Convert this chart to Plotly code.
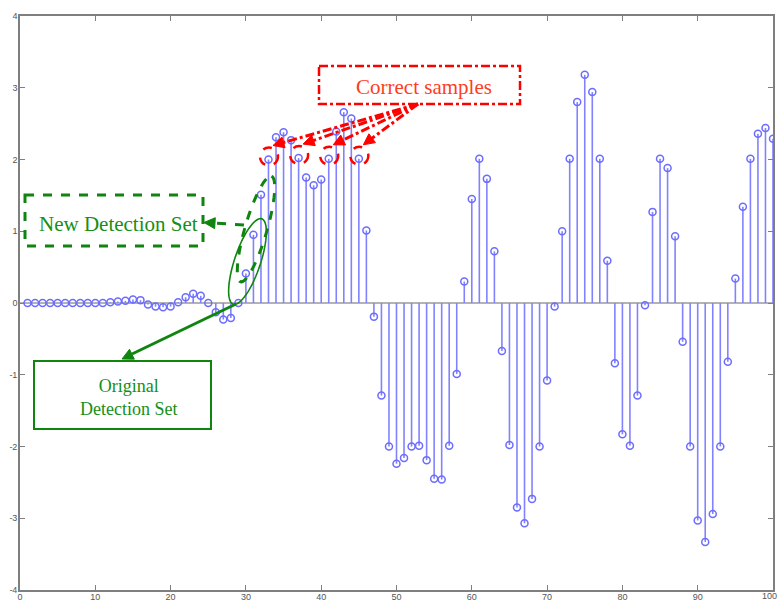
import math
import plotly.graph_objects as go

# ---------------- data ----------------
n_idx = list(range(1, 101))
values = [0.0, 0.0, 0.0, 0.0, 0.0, 0.0, 0.0, 0.0, 0.0, 0.0,
          0.0, 0.01, 0.02, 0.03, 0.05, 0.04, -0.02, -0.05, -0.06, -0.05,
          0.01, 0.08, 0.13, 0.10, 0.0, -0.13, -0.23, -0.21, 0.0, 0.41,
          0.95, 1.51, 2.0, 2.31, 2.38, 2.27, 2.02, 1.75, 1.64, 1.72,
          2.01, 2.39, 2.66, 2.57, 2.01, 1.01, -0.19, -1.29, -2.0, -2.24,
          -2.16, -2.0, -1.99, -2.19, -2.45, -2.46, -1.99, -0.99, 0.30, 1.45,
          2.01, 1.73, 0.72, -0.67, -1.98, -2.85, -3.07, -2.73, -2.0, -1.08,
          -0.05, 1.0, 2.01, 2.80, 3.18, 2.94, 2.01, 0.59, -0.84, -1.83,
          -1.99, -1.29, -0.03, 1.27, 2.01, 1.88, 0.93, -0.54, -2.0, -3.03,
          -3.33, -2.94, -2.0, -0.82, 0.34, 1.34, 2.01, 2.36, 2.44, 2.29]
x_ticks = [0, 10, 20, 30, 40, 50, 60, 70, 80, 90, 100]
y_ticks = [-4, -3, -2, -1, 0, 1, 2, 3, 4]
correct_idx = [33, 37, 41, 45]

# ---------------- layout geometry ----------------
W, H = 779, 604
ML, MR, MT, MB = 20, 6, 16, 14
X0, X1, Y0, Y1 = 0, 100, -4, 4
PW, PH = W - ML - MR, H - MT - MB


def d(px, py):
    return (X0 + (px - ML) / PW * (X1 - X0), Y1 - (py - MT) / PH * (Y1 - Y0))


def p(x, y):
    return (ML + (x - X0) / (X1 - X0) * PW, MT + (Y1 - y) / (Y1 - Y0) * PH)


def path_from_px(pts, close=True):
    s = ""
    for i, (px, py) in enumerate(pts):
        x, y = d(px, py)
        s += ("M" if i == 0 else "L") + f"{x:.4f},{y:.4f} "
    if close:
        s += "Z"
    return s


def ellipse_px(cx, cy, a, b, ang, n=72):
    r = math.radians(ang)
    ux, uy = math.cos(r), -math.sin(r)
    vx, vy = math.sin(r), math.cos(r)
    pts = []
    for k in range(n):
        t = 2 * math.pi * k / n
        pts.append((cx + a * math.cos(t) * ux + b * math.sin(t) * vx,
                    cy + a * math.cos(t) * uy + b * math.sin(t) * vy))
    return path_from_px(pts)


def arrowhead(sx, sy, tx, ty, L=11, w=5.5):
    dx, dy = tx - sx, ty - sy
    m = math.hypot(dx, dy)
    dx, dy = dx / m, dy / m
    nx, ny = -dy, dx
    bx, by = tx - L * dx, ty - L * dy
    return path_from_px([(tx, ty), (bx + w * nx, by + w * ny), (bx - w * nx, by - w * ny)])


RED = "#ff0000"
RED_TXT = "#ff3c1e"
GREEN = "#0f850f"
GREEN_TXT = "#168f16"
STEM = "#8282ff"
MARK = "#6c6cff"
TICK_FONT = dict(family="Liberation Sans Narrow, Liberation Sans", size=9, color="#555555")

fig = go.Figure()

# stems
sx, sy = [], []
for xi, v in zip(n_idx, values):
    sx += [xi, xi, None]
    sy += [0, v, None]
fig.add_trace(go.Scatter(x=sx, y=sy, mode="lines",
                         line=dict(color=STEM, width=1.6), hoverinfo="skip",
                         showlegend=False))
fig.add_trace(go.Scatter(x=n_idx, y=values, mode="markers",
                         marker=dict(symbol="circle-open", size=7,
                                     color=MARK, line=dict(width=1.5, color=MARK)),
                         showlegend=False))

shapes = []
annos = []

# baseline
shapes.append(dict(type="line", xref="x", yref="y", x0=X0, x1=X1, y0=0, y1=0,
                   line=dict(color="#9a9a9a", width=1.6), layer="below"))

# ---- red "Correct samples" box and arrows ----
bx0, by0 = d(319, 66)
bx1, by1 = d(520, 104)
shapes.append(dict(type="rect", xref="x", yref="y", x0=bx0, x1=bx1, y0=by0, y1=by1,
                   line=dict(color=RED, width=2.5, dash="dashdot")))
cx_t, cy_t = d(424, 87)
annos.append(dict(x=cx_t, y=cy_t, xref="x", yref="y", text="Correct samples",
                  showarrow=False, font=dict(family="Liberation Serif", size=21,
                                             color=RED_TXT)))
start = (418, 104)
for k in correct_idx:
    px, py = p(k, values[k - 1])
    ccx, ccy = px + 0.5, py - 3
    rr = 9
    ax0, ay0 = d(ccx - rr, ccy + rr)
    ax1, ay1 = d(ccx + rr, ccy - rr)
    shapes.append(dict(type="circle", xref="x", yref="y", x0=ax0, x1=ax1, y0=ay0, y1=ay1,
                       line=dict(color=RED, width=2.5, dash="dash")))
    tx, ty = ccx + 4, ccy - 11
    ddx, ddy = tx - start[0], ty - start[1]
    m = math.hypot(ddx, ddy)
    ex, ey = tx - 9 * ddx / m, ty - 9 * ddy / m
    l0 = d(*start)
    l1 = d(ex, ey)
    shapes.append(dict(type="line", xref="x", yref="y", x0=l0[0], y0=l0[1], x1=l1[0], y1=l1[1],
                       line=dict(color=RED, width=3, dash="dashdot")))
    shapes.append(dict(type="path", xref="x", yref="y", path=arrowhead(start[0], start[1], tx, ty),
                       fillcolor=RED, line=dict(color=RED, width=1)))

# ---- green "New Detection Set" dashed box ----
g0 = d(25, 195)
g1 = d(203, 246)
shapes.append(dict(type="rect", xref="x", yref="y", x0=g0[0], x1=g1[0], y0=g0[1], y1=g1[1],
                   line=dict(color=GREEN, width=3, dash="dash")))
t = d(118, 224)
annos.append(dict(x=t[0], y=t[1], xref="x", yref="y", text="New Detection Set",
                  showarrow=False, font=dict(family="Liberation Serif", size=21,
                                             color=GREEN_TXT)))
shapes.append(dict(type="path", xref="x", yref="y",
                   path=ellipse_px(256, 229, 55, 11, 73.7),
                   line=dict(color=GREEN, width=3, dash="dash")))
a0 = d(244, 225)
a1 = d(213, 223)
shapes.append(dict(type="line", xref="x", yref="y", x0=a0[0], y0=a0[1], x1=a1[0], y1=a1[1],
                   line=dict(color=GREEN, width=3, dash="dash")))
shapes.append(dict(type="path", xref="x", yref="y", path=arrowhead(244, 225, 204, 222.5),
                   fillcolor=GREEN, line=dict(color=GREEN, width=1)))

# ---- green "Original Detection Set" ----
shapes.append(dict(type="path", xref="x", yref="y",
                   path=ellipse_px(247.5, 261.5, 45, 13, 71.5),
                   line=dict(color=GREEN, width=1.6)))
s0 = d(236, 304)
s1 = d(132, 354)
shapes.append(dict(type="line", xref="x", yref="y", x0=s0[0], y0=s0[1], x1=s1[0], y1=s1[1],
                   line=dict(color=GREEN, width=3)))
shapes.append(dict(type="path", xref="x", yref="y", path=arrowhead(236, 304, 122, 359),
                   fillcolor=GREEN, line=dict(color=GREEN, width=1)))
o0 = d(34, 361)
o1 = d(211, 429)
shapes.append(dict(type="rect", xref="x", yref="y", x0=o0[0], x1=o1[0], y0=o0[1], y1=o1[1],
                   line=dict(color=GREEN, width=2)))
t2 = d(128, 397)
annos.append(dict(x=t2[0], y=t2[1], xref="x", yref="y", text="Original<br>Detection Set",
                  showarrow=False, font=dict(family="Liberation Serif", size=18,
                                             color=GREEN_TXT)))

# last x tick label kept fully inside the page
x_ticktext = [str(v) for v in x_ticks]
x_ticktext[-1] = ""
annos.append(dict(x=x_ticks[-1], y=0, xref="x", yref="paper", text=str(x_ticks[-1]),
                  showarrow=False, xanchor="right", yanchor="top", xshift=6, yshift=1,
                  font=TICK_FONT))

axis_common = dict(showline=True, linecolor="#7f7f7f", linewidth=1.6, mirror="ticks",
                   ticks="inside", ticklen=5, tickwidth=1, tickcolor="#7f7f7f",
                   showgrid=False, zeroline=False, automargin=False,
                   ticklabeloverflow="allow", tickfont=TICK_FONT)

fig.update_layout(
    width=W, height=H,
    margin=dict(l=ML, r=MR, t=MT, b=MB, autoexpand=False),
    paper_bgcolor="white", plot_bgcolor="white",
    xaxis=dict(range=[X0, X1], tickvals=x_ticks, ticktext=x_ticktext,
               ticklabelstandoff=-3, **axis_common),
    yaxis=dict(range=[Y0, Y1], tickvals=y_ticks, ticktext=[str(v) for v in y_ticks],
               ticklabelstandoff=-1, **axis_common),
    shapes=shapes, annotations=annos, showlegend=False,
)

fig.write_html("out.html")
